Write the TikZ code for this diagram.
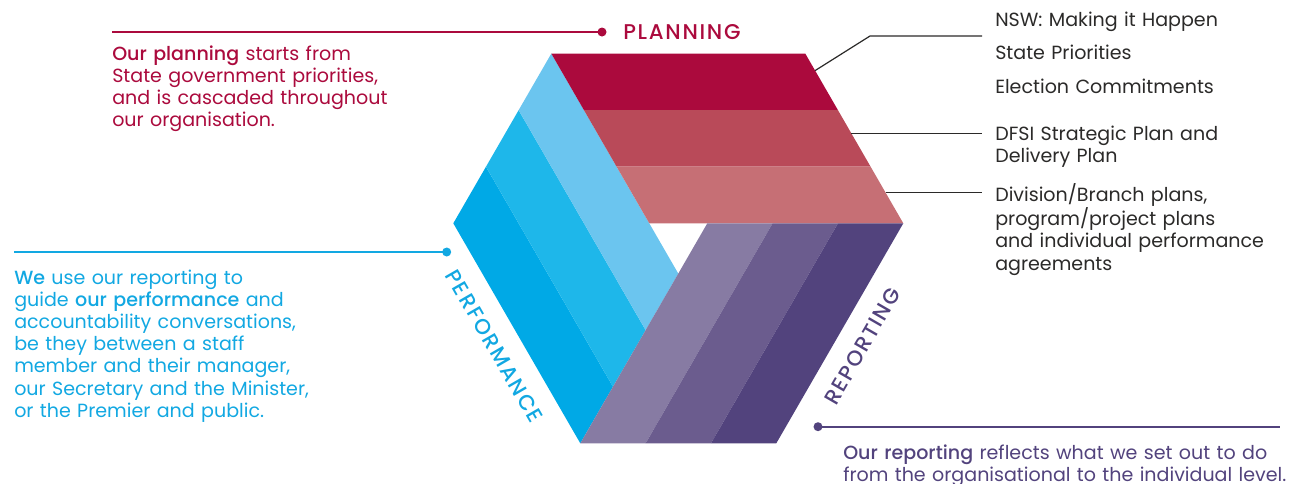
\documentclass[tikz,border=0pt]{standalone}
\usepackage{fontspec}
\setmainfont{Poppins}[BoldFont={Poppins Medium}]
\newfontfamily\lblfont{Poppins Medium}[LetterSpace=8]
\usetikzlibrary{calc}
\definecolor{plancol}{HTML}{AB0A3D}
\definecolor{planmid}{HTML}{B94A59}
\definecolor{planlight}{HTML}{C66F75}
\definecolor{bluedark}{HTML}{00A9E6}
\definecolor{bluemid}{HTML}{1EB7EA}
\definecolor{bluelight}{HTML}{6BC5EF}
\definecolor{perfcol}{HTML}{12A8E2}
\definecolor{purlight}{HTML}{877BA3}
\definecolor{purmid}{HTML}{6B5C8E}
\definecolor{purdark}{HTML}{52437D}
\definecolor{repcol}{HTML}{52437D}
\definecolor{inkcol}{HTML}{2B2A29}
\begin{document}
\begin{tikzpicture}[x=0.75pt,y=-0.75pt,
  lbl/.style={inner sep=0pt, font=\lblfont\fontsize{16}{19}\selectfont},
  para/.style={anchor=base west, inner sep=0pt, text width=360pt, align=left,
               font=\fontsize{14.3}{16.65}\selectfont},
  side/.style={anchor=base west, inner xsep=9.75pt, inner ysep=0pt, text width=260pt,
               align=left, text=inkcol, font=\fontsize{14.3}{16.8}\selectfont},
  dot/.style={circle, inner sep=0pt, minimum size=6.75pt},
  rule/.style={line width=1.6pt},
  leader/.style={draw=inkcol, line width=0.9pt}]
\useasboundingbox (0,0) rectangle (1296,483);
% hexagon corners
\coordinate (F) at (453.3,223.3);
\coordinate (A) at (551.3,53.6);
\coordinate (B) at (805.3,53.6);
\coordinate (C) at (903.3,223.3);
\coordinate (D) at (776.3,443.3);
\coordinate (E) at (580.3,443.3);
\coordinate (G) at (649.3,223.3);
\coordinate (H) at (678.3,273.6);
\coordinate (I) at (707.3,223.3);
% performance (blue) band
\fill[bluedark] (F) -- ($(F)!0.3333!(A)$) -- ($(E)!0.3333!(H)$) -- (E) -- cycle;
\fill[bluemid] ($(F)!0.3333!(A)$) -- ($(F)!0.6667!(A)$) -- ($(E)!0.6667!(H)$) -- ($(E)!0.3333!(H)$) -- cycle;
\fill[bluelight] ($(F)!0.6667!(A)$) -- (A) -- (H) -- ($(E)!0.6667!(H)$) -- cycle;
% planning (red) band
\fill[plancol] (A) -- (B) -- ($(B)!0.3333!(C)$) -- ($(A)!0.3333!(G)$) -- cycle;
\fill[planmid] ($(A)!0.3333!(G)$) -- ($(B)!0.3333!(C)$) -- ($(B)!0.6667!(C)$) -- ($(A)!0.6667!(G)$) -- cycle;
\fill[planlight] ($(A)!0.6667!(G)$) -- ($(B)!0.6667!(C)$) -- (C) -- (G) -- cycle;
% reporting (purple) band
\fill[purlight] (E) -- ($(E)!0.3333!(D)$) -- ($(I)!0.3333!(C)$) -- (I) -- cycle;
\fill[purmid] ($(E)!0.3333!(D)$) -- ($(E)!0.6667!(D)$) -- ($(I)!0.6667!(C)$) -- ($(I)!0.3333!(C)$) -- cycle;
\fill[purdark] ($(E)!0.6667!(D)$) -- (D) -- (C) -- ($(I)!0.6667!(C)$) -- cycle;

% labels along the hexagon
\node[lbl, text=plancol, anchor=base west] (planlbl) at (623,39.3) {PLANNING};
\node[lbl, text=perfcol, rotate=-60] (perflbl) at ($(F)!0.5!(E)+(-22.5,13)$) {PERFORMANCE};
\node[lbl, text=repcol, rotate=60] (replbl) at ($(C)!0.5!(D)+(22.5,13)$) {REPORTING};

% rules with dots
\node[dot, fill=plancol] (plandot) at (602,32) {};
\coordinate (planstart) at (112,32);
\draw[rule, plancol] (planstart) -- (plandot.center);
\node[dot, fill=perfcol] (perfdot) at (446.7,252) {};
\coordinate (perfstart) at (14,252);
\draw[rule, perfcol] (perfstart) -- (perfdot.center);
\node[dot, fill=repcol] (repdot) at (818,426.7) {};
\coordinate (repend) at (1280,426.7);
\draw[rule, repcol] (repdot.center) -- (repend);

% paragraphs
\node[para, text=plancol] (plantext) at (112,60)
  {\textbf{Our planning} starts from\\State government priorities,\\and is cascaded throughout\\our organisation.};
\node[para, text=perfcol] (perftext) at (14,284)
  {\textbf{We} use our reporting to\\guide \textbf{our performance} and\\accountability conversations,\\be they between a staff\\member and their manager,\\our Secretary and the Minister,\\or the Premier and public.};
\node[para, text=repcol] (reptext) at (843,459.3)
  {\textbf{Our reporting} reflects what we set out to do\\from the organisational to the individual level.};

% right-hand list
\node[side, font=\fontsize{14.3}{25.3}\selectfont] (planlist) at (982,26)
  {NSW: Making it Happen\\State Priorities\\Election Commitments};
\node[side] (dfsi) at (982,140) {DFSI Strategic Plan and\\Delivery Plan};
\node[side] (division) at (982,201)
  {Division/Branch plans,\\program/project plans\\and individual performance\\agreements};

% leader lines
\coordinate (k1) at ($(B)!0.1!(C)$);
\coordinate (elbow) at (870,36);
\draw[leader] (k1) -- (elbow) -- (elbow -| planlist.west);
\coordinate (k2) at ($(B)!0.47!(C)$);
\draw[leader] (k2) -- (k2 -| dfsi.west);
\coordinate (k3) at ($(B)!0.82!(C)$);
\draw[leader] (k3) -- (k3 -| division.west);
\end{tikzpicture}
\end{document}
